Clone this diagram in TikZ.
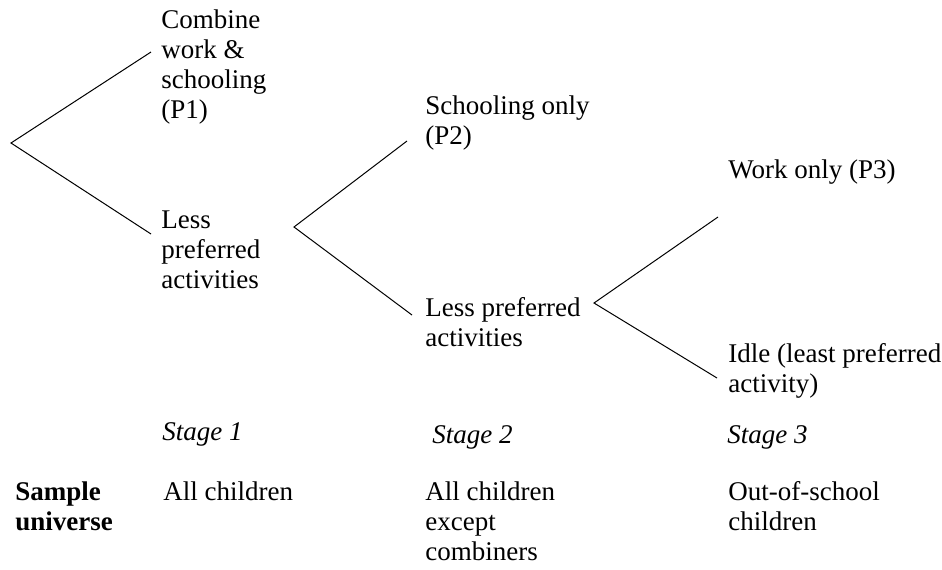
\documentclass[tikz,border=0pt]{standalone}
\usepackage{fontspec}
\setmainfont{Liberation Serif}
\tikzset{
  lbl/.style={anchor=base west, inner sep=0pt, align=left, font=\fontsize{13.5}{15}\selectfont},
  stagelbl/.style={lbl, font=\fontsize{13.5}{15}\selectfont\itshape},
  boldlbl/.style={lbl, font=\fontsize{13.5}{15}\selectfont\bfseries},
  branch/.style={draw=black, line width=0.5pt}
}
\begin{document}
\begin{tikzpicture}[x=0.5pt,y=-0.5pt]
\useasboundingbox (0,0) rectangle (942,569);
% text nodes (anchored at the baseline of their last line)
\node[lbl] (p1) at (161,118) {Combine\\work \&\\schooling\\(P1)};
\node[lbl] (l1) at (161,288) {Less\\preferred\\activities};
\node[lbl] (p2) at (425,144) {Schooling only\\(P2)};
\node[lbl] (l2) at (425,346) {Less preferred\\activities};
\node[lbl] (p3) at (728,178) {Work only (P3)};
\node[lbl] (idle) at (728,392) {Idle (least preferred\\activity)};
\node[stagelbl] (s1) at (162,440) {Stage 1};
\node[stagelbl] (s2) at (432,443) {Stage 2};
\node[stagelbl] (s3) at (727,443) {Stage 3};
\node[boldlbl] (su) at (15,530) {Sample\\universe};
\node[lbl] (u1) at (163,500) {All children};
\node[lbl] (u2) at (425,560) {All children\\except\\combiners};
\node[lbl] (u3) at (728,530) {Out-of-school\\children};
% branch points
\coordinate (a1) at (11,143);
\coordinate (a1u) at (151,52);
\coordinate (a1l) at (151,234);
\coordinate (a2) at (294,227);
\coordinate (a2u) at (407,141);
\coordinate (a2l) at (412,315);
\coordinate (a3) at (594,303);
\coordinate (a3u) at (718,217);
\coordinate (a3l) at (717,378);
\draw[branch] (a1u) -- (a1) -- (a1l);
\draw[branch] (a2u) -- (a2) -- (a2l);
\draw[branch] (a3u) -- (a3) -- (a3l);
\end{tikzpicture}
\end{document}
